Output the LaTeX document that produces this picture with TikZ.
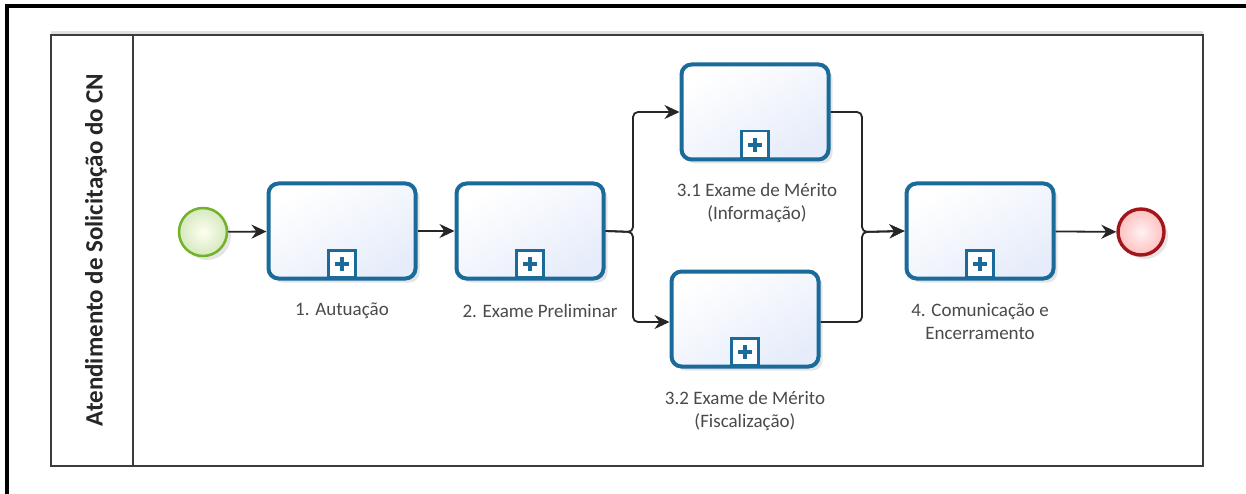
\documentclass[tikz,border=0pt]{standalone}
\usepackage{fontspec}
\setmainfont{Carlito}
\usetikzlibrary{arrows.meta,shadows}

\definecolor{taskblue}{HTML}{1A6A9A}
\definecolor{taskfill}{HTML}{E6ECFA}
\definecolor{startgreen}{HTML}{72B32A}
\definecolor{endred}{HTML}{A0161B}
\definecolor{labelgrey}{HTML}{4A4A4A}
\definecolor{poolgrey}{HTML}{3C3C3C}

\tikzset{
  task/.style={rectangle, rounded corners=10pt, draw=taskblue, line width=4pt,
    minimum width=147pt, minimum height=95pt, top color=white, bottom color=taskfill,
    shading angle=30,
    drop shadow={opacity=0.2, shadow xshift=4pt, shadow yshift=-4pt}},
  marker/.style={rectangle, draw=taskblue, line width=2.4pt, fill=white,
    minimum width=27pt, minimum height=27pt, inner sep=0pt, anchor=south},
  tasklabel/.style={text=labelgrey, font=\fontsize{19}{23}\selectfont, align=center},
  startev/.style={circle, draw=startgreen, line width=2.5pt, minimum size=48pt,
    inner color=white!60!yellow!15, outer color=startgreen!30!white,
    drop shadow={opacity=0.2, shadow xshift=4pt, shadow yshift=-4pt}},
  endev/.style={circle, draw=endred, line width=3.4pt, minimum size=46pt,
    inner color=red!5, outer color=red!25,
    drop shadow={opacity=0.2, shadow xshift=4pt, shadow yshift=-4pt}},
  flow/.style={draw=black!85, line width=1.8pt, rounded corners=5pt,
    -{Stealth[length=15pt,width=14pt]}},
}

\newcommand{\plusmark}[1]{%
  \node[marker] (#1-m) at ([yshift=2pt]#1.south) {};
  \fill[taskblue] ([xshift=-7pt,yshift=-2pt]#1-m.center) rectangle ([xshift=7pt,yshift=2pt]#1-m.center);
  \fill[taskblue] ([xshift=-2pt,yshift=-7pt]#1-m.center) rectangle ([xshift=2pt,yshift=7pt]#1-m.center);
}

\begin{document}
\begin{tikzpicture}[x=1pt,y=-1pt]
  \useasboundingbox (0,0) rectangle (1246,494);
  \fill[white] (0,0) rectangle (1246,494);

  % page frame
  \draw[black, line width=3.5pt] (7,494) -- (7,6) -- (1246,6);

  % pool and lane header
  \draw[black!12, line width=3pt] (51,33) -- (1203,33);
  \draw[poolgrey, line width=1.8pt] (51,35) rectangle (1203,466);
  \draw[poolgrey, line width=1.8pt] (133,35) -- (133,466);
  \node[rotate=90, font=\fontsize{25}{28}\bfseries\selectfont, text=black!85] (lane) at (96,250)
    {Atendimento de Solicitação do CN};

  % events and tasks
  \node[startev] (start) at (203,232) {};
  \node[task] (t1) at (342,231) {};
  \node[task] (t2) at (530,231) {};
  \node[task] (t31) at (755,112) {};
  \node[task] (t32) at (745,319) {};
  \node[task] (t4) at (980,231) {};
  \node[endev] (end) at (1141,232) {};

  \plusmark{t1}
  \plusmark{t2}
  \plusmark{t31}
  \plusmark{t32}
  \plusmark{t4}

  % task labels
  \node[tasklabel] (l1) at (342,311) {1. Autuação};
  \node[tasklabel] (l2) at (540,311) {2. Exame Preliminar};
  \node[tasklabel] (l31) at (757,203) {3.1 Exame de Mérito\\(Informação)};
  \node[tasklabel] (l32) at (745,411) {3.2 Exame de Mérito\\(Fiscalização)};
  \node[tasklabel] (l4) at (980,322) {4. Comunicação e\\Encerramento};

  % sequence flows
  \coordinate (split) at (633,232);
  \coordinate (join) at (862,232);
  \draw[flow] (start) -- (t1);
  \draw[flow] (t1) -- (t2);
  \draw[flow] (t2.east) -- (split) |- (t31.west);
  \draw[flow] (t2.east) -- (split) |- ([yshift=-3pt]t32.west);
  \draw[flow] (t31.east) -| (join) -- (t4.west);
  \draw[flow] ([yshift=-3pt]t32.east) -| (join) -- (t4.west);
  \draw[flow] (t4) -- (end);
\end{tikzpicture}
\end{document}
